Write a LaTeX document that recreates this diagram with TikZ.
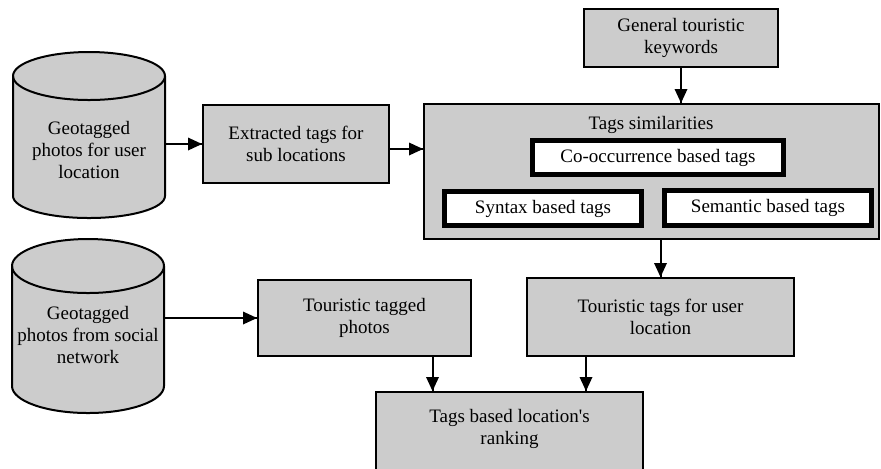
\documentclass[tikz,border=0pt]{standalone}
\usepackage{fontspec}
\newfontfamily\diagfont{Liberation Serif}
\definecolor{boxgray}{RGB}{204,204,204}

\begin{document}
\begin{tikzpicture}[x=0.5pt,y=0.5pt]
\tikzstyle{every node}+=[inner sep=0pt, align=center, font=\diagfont\fontsize{9.5}{11}\selectfont]
\tikzstyle{box}=[draw=black, fill=boxgray, line width=1pt]
\tikzstyle{tagbox}=[draw=black, fill=white, line width=2.5pt]
\tikzstyle{conn}=[black, line width=1pt]
\useasboundingbox (0,0) rectangle (881,-468);
\clip (0,0) rectangle (881,-468);
% databases
\filldraw [box] (13,-76) -- (13,-196) arc[start angle=180, end angle=360, x radius=76, y radius=22] -- (165,-76) arc[start angle=0, end angle=180, x radius=76, y radius=24] -- cycle;
\draw [conn] (13,-76) arc[start angle=180, end angle=360, x radius=76, y radius=24];
\filldraw [box] (12,-266) -- (12,-386) arc[start angle=180, end angle=360, x radius=76, y radius=27] -- (164,-266) arc[start angle=0, end angle=180, x radius=76, y radius=27] -- cycle;
\draw [conn] (12,-266) arc[start angle=180, end angle=360, x radius=76, y radius=27];
\node [minimum width=76pt] (photosuser) at (89,-150) {Geotagged\\photos for user\\location};
\node [minimum width=76pt] (photossocial) at (88,-335) {Geotagged\\photos from social\\network};
% boxes
\node [box, minimum width=93pt, minimum height=39pt] (extr) at (296,-144) {Extracted tags for\\sub locations};
\node [box, minimum width=97pt, minimum height=29pt] (gen) at (681,-38) {General touristic\\keywords};
\node [box, minimum width=227.5pt, minimum height=67.5pt] (sim) at (651.5,-171.5) {};
\node (simttl) at (651,-125) {Tags similarities};
\node [tagbox, minimum width=125.5pt, minimum height=17pt] (cooc) at (658,-157.5) {Co-occurrence based tags};
\node [tagbox, minimum width=98.5pt, minimum height=17pt] (syntax) at (543,-208.5) {Syntax based tags};
\node [tagbox, minimum width=103.5pt, minimum height=17.5pt] (semantic) at (768,-208) {Semantic based tags};
\node [box, minimum width=106.5pt, minimum height=38pt] (tagphotos) at (364.5,-318) {Touristic tagged\\photos};
\node [box, minimum width=133.5pt, minimum height=39pt] (usertags) at (660.5,-317) {Touristic tags for user\\location};
\node [box, minimum width=133.5pt, minimum height=50pt] (rank) at (509.5,-442) {};
\node (ranktxt) at (509.5,-429) {Tags based location's\\ranking};
% connectors
\coordinate (extrout) at ([yshift=-2.5pt]extr.east);
\coordinate (photosout) at ([xshift=34pt]tagphotos.south);
\coordinate (userout) at ([xshift=-37.25pt]usertags.south);
\draw [conn] (photosuser.east |- extr.west) -- (extr.west);
\fill [black] (extr.west) -- ++(-14,6.5) -- ++(0,-13) -- cycle;
\draw [conn] (extrout) -- (extrout -| sim.west);
\fill [black] (extrout -| sim.west) -- ++(-14,6.5) -- ++(0,-13) -- cycle;
\draw [conn] (gen.south) -- (gen.south |- sim.north);
\fill [black] (gen.south |- sim.north) -- ++(-6.5,14) -- ++(13,0) -- cycle;
\draw [conn] (usertags.north |- sim.south) -- (usertags.north);
\fill [black] (usertags.north) -- ++(-6.5,14) -- ++(13,0) -- cycle;
\draw [conn] (photossocial.east |- tagphotos.west) -- (tagphotos.west);
\fill [black] (tagphotos.west) -- ++(-14,6.5) -- ++(0,-13) -- cycle;
\draw [conn] (photosout) -- (photosout |- rank.north);
\fill [black] (photosout |- rank.north) -- ++(-6.5,14) -- ++(13,0) -- cycle;
\draw [conn] (userout) -- (userout |- rank.north);
\fill [black] (userout |- rank.north) -- ++(-6.5,14) -- ++(13,0) -- cycle;
\end{tikzpicture}
\end{document}
